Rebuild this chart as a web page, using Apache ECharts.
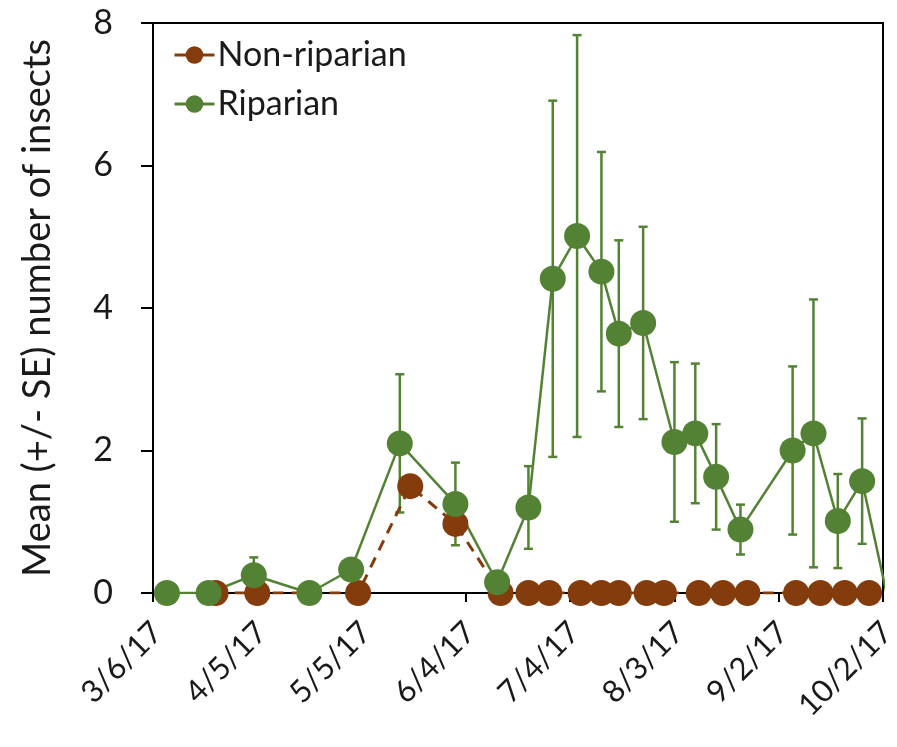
<!DOCTYPE html>
<html>
<head>
<meta charset="utf-8">
<script src="https://cdn.jsdelivr.net/npm/echarts@6/dist/echarts.min.js"></script>
<style>
  html, body { margin: 0; padding: 0; background: #fff; }
  #chart { width: 897px; height: 747px; }
</style>
</head>
<body>
<div id="chart"></div>
<script>
// Sampling dates (M/D/YY) and mean insect counts per habitat
const nonRiparianDates = ['3/24/17','4/5/17','5/4/17','5/19/17','6/1/17','6/14/17','6/22/17','6/28/17',
  '7/7/17','7/13/17','7/18/17','7/26/17','7/31/17','8/10/17','8/17/17','8/24/17',
  '9/7/17','9/14/17','9/21/17','9/28/17'];
const nonRiparianMean = [0, 0, 0, 1.5, 0.97, 0, 0, 0, 0, 0, 0, 0, 0, 0, 0, 0, 0, 0, 0, 0];

const riparianDates = ['3/10/17','3/22/17','4/4/17','4/20/17','5/2/17','5/16/17','6/1/17','6/13/17',
  '6/22/17','6/29/17','7/6/17','7/13/17','7/18/17','7/25/17','8/3/17','8/9/17',
  '8/15/17','8/22/17','9/6/17','9/12/17','9/19/17','9/26/17','10/3/17'];
const riparianMean = [0, 0, 0.25, 0, 0.33, 2.10, 1.25, 0.15,
  1.20, 4.41, 5.01, 4.51, 3.64, 3.79, 2.12, 2.24,
  1.63, 0.89, 2.00, 2.24, 1.01, 1.57, 0];
const riparianSE = [0, 0, 0.25, 0, 0, 0.97, 0.58, 0,
  0.58, 2.50, 2.82, 1.68, 1.31, 1.35, 1.12, 0.98,
  0.74, 0.35, 1.18, 1.88, 0.66, 0.88, 0];

const seriesNames = ['Non-riparian', 'Riparian'];
const axisStart = '3/6/17';
const axisEnd = '10/2/17';
const tickStepDays = 30;
const yTicks = [0, 2, 4, 6, 8];

const brown = '#843C0C';
const green = '#548235';
const textColor = '#1a1a1a';
const fontFamily = 'Lato, "Open Sans", sans-serif';

const DAY = 86400000;
function parseMDY(s) {
  const [m, d, y] = s.split('/').map(Number);
  return Date.UTC(2000 + y, m - 1, d);
}
const t0 = parseMDY(axisStart);
const dayOf = s => Math.round((parseMDY(s) - t0) / DAY);
function labelOf(day) {
  const dt = new Date(t0 + day * DAY);
  return (dt.getUTCMonth() + 1) + '/' + dt.getUTCDate() + '/' + String(dt.getUTCFullYear()).slice(2);
}

const nonRipData = nonRiparianDates.map((d, i) => [dayOf(d), nonRiparianMean[i]]);
const ripData = riparianDates.map((d, i) => [dayOf(d), riparianMean[i]]);
const ripErr = riparianDates
  .map((d, i) => [dayOf(d), riparianMean[i] - riparianSE[i], riparianMean[i] + riparianSE[i]])
  .filter((r, i) => riparianSE[i] > 0);

const chart = echarts.init(document.getElementById('chart'), null, { renderer: 'canvas' });

chart.setOption({
  animation: false,
  backgroundColor: '#fff',
  textStyle: { fontFamily },
  grid: {
    left: 153, right: 14, top: 23, bottom: 154,
    containLabel: false,
    outerBoundsMode: 'none',
    show: true, borderColor: '#000', borderWidth: 2, backgroundColor: 'transparent'
  },
  legend: {
    orient: 'vertical',
    left: 168, top: 29,
    itemWidth: 40, itemHeight: 22,
    itemGap: 7,
    data: seriesNames,
    lineStyle: { type: 'solid', width: 3 },
    textStyle: { fontSize: 34, color: textColor, fontFamily, lineHeight: 42, padding: [0, 0, 0, -2] }
  },
  xAxis: {
    type: 'value',
    min: 0,
    max: dayOf(axisEnd),
    interval: tickStepDays,
    axisLine: { lineStyle: { color: '#000', width: 2 } },
    axisTick: { show: true, length: 9, inside: false, lineStyle: { color: '#000', width: 2 } },
    splitLine: { show: false },
    axisLabel: {
      rotate: 45,
      margin: 30,
      fontSize: 31,
      lineHeight: 12,
      verticalAlign: 'top',
      color: textColor,
      fontFamily,
      formatter: v => labelOf(v)
    }
  },
  yAxis: {
    type: 'value',
    min: yTicks[0],
    max: yTicks[yTicks.length - 1],
    interval: yTicks[1] - yTicks[0],
    name: 'Mean (+/- SE) number of insects',
    nameLocation: 'middle',
    nameRotate: 90,
    nameGap: 96,
    nameTextStyle: { fontSize: 38, color: textColor, fontFamily },
    axisLine: { lineStyle: { color: '#000', width: 2 } },
    axisTick: { show: true, length: 12, inside: false, lineStyle: { color: '#000', width: 2 } },
    splitLine: { show: false },
    axisLabel: { margin: 40, fontSize: 34, color: textColor, fontFamily }
  },
  series: [
    {
      name: seriesNames[0],
      type: 'line',
      data: nonRipData,
      symbol: 'circle',
      symbolSize: 26,
      color: brown,
      itemStyle: { color: brown },
      lineStyle: { color: brown, width: 3, type: [11, 8] },
      clip: true
    },
    {
      name: 'Riparian SE',
      type: 'custom',
      data: ripErr,
      silent: true,
      clip: true,
      renderItem: function (params, api) {
        const x = api.value(0);
        const lo = api.coord([x, api.value(1)]);
        const hi = api.coord([x, api.value(2)]);
        const cap = 4.5;
        const style = { stroke: green, lineWidth: 2.5 };
        return {
          type: 'group',
          children: [
            { type: 'line', shape: { x1: lo[0], y1: lo[1], x2: hi[0], y2: hi[1] }, style },
            { type: 'line', shape: { x1: hi[0] - cap, y1: hi[1], x2: hi[0] + cap, y2: hi[1] }, style },
            { type: 'line', shape: { x1: lo[0] - cap, y1: lo[1], x2: lo[0] + cap, y2: lo[1] }, style }
          ]
        };
      }
    },
    {
      name: seriesNames[1],
      type: 'line',
      data: ripData,
      symbol: 'circle',
      symbolSize: 26,
      color: green,
      itemStyle: { color: green },
      lineStyle: { color: green, width: 2.5 },
      clip: true
    }
  ]
});
</script>
</body>
</html>
